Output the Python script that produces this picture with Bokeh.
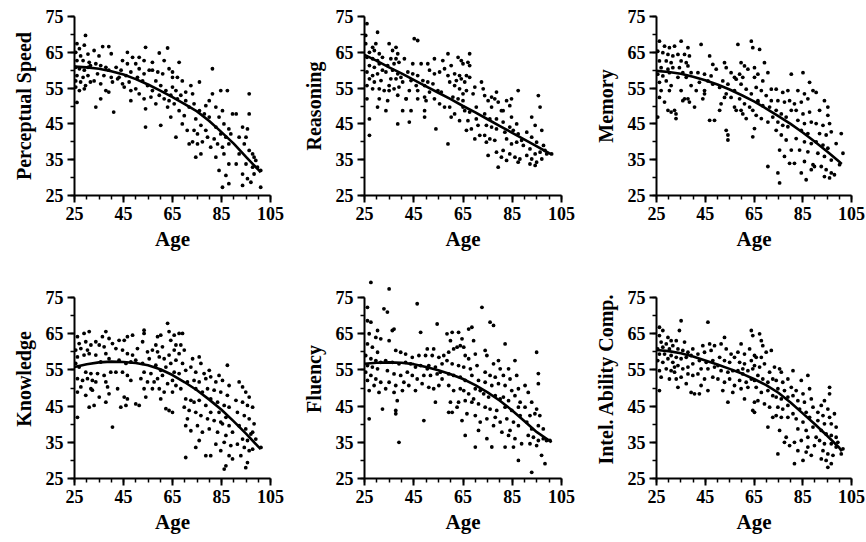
from bokeh.plotting import figure
from bokeh.layouts import column, row
from bokeh.models import FixedTicker
from bokeh.embed import file_html
from bokeh.resources import INLINE

# ---------------- data ----------------
x_ticks = [25, 45, 65, 85, 105]
y_ticks = [25, 35, 45, 55, 65, 75]
fit_age = [25, 30, 35, 40, 45, 50, 55, 60, 65, 70, 75, 80, 85, 90, 95, 100, 101]

ps_age = [26, 27, 29.5, 29, 25.5, 27.5, 30.5, 26, 28.5, 31, 25.5, 27, 29, 30.5, 31.5, 26, 28.5, 30.5, 25.5, 27.5, 29.5, 31.5, 27, 29, 26, 25.5,
          33, 36.5, 39, 35, 40, 33.7, 35.7, 37.8, 39, 34.4, 37, 40, 33, 35.7, 37.8, 40.5, 33.7, 35.7, 41, 39,
          44.6, 46.6, 48.7, 42, 44, 46, 48, 42.6, 44.6, 47.3, 45.3, 48, 43.2, 46.6, 48,
          51.4, 54, 50, 53.4, 51.4, 53.4, 55.5, 50.7, 52.8, 54.8, 56.8, 51.4, 53.4, 54, 56.2, 56.8, 54, 50,
          59.6, 63, 56.8, 61.6, 59, 61, 63.6, 58.2, 60.2, 62.3, 64.3, 59.6, 61.6, 63.6, 58.2, 60.2, 64.3, 63, 65, 65,
          67.7, 65, 67, 69, 66.4, 68.4, 70.4, 65.7, 67.7, 69.8, 71.8, 72.5, 66.4, 69, 71, 71.8, 73.2, 67, 70.4,
          76, 73.2, 73.8, 76, 78, 80, 74.5, 76.6, 78.6, 81.3, 81.3, 80, 73.8, 75.2, 77.2, 74.5, 76.6, 80.6, 79.3, 78.6, 75.2,
          84.7, 87.4, 82.7, 85.4, 84, 86, 88, 82.7, 84.7, 86.8, 88.8, 83.4, 85.4, 88, 82.7, 86, 88, 84, 86.8, 88, 85.4, 89.5, 82,
          91, 96.3, 96.3, 93.6, 95.6, 92.2, 94.3, 96.3, 98.3, 92.2, 95, 97.7, 93.6, 95.6, 93.6, 97, 91, 95, 97.7,
          99.7, 101, 99, 101, 98.3]
ps_val = [67.4, 66, 69.7, 67, 65, 64, 64.5, 62.7, 62.7, 62.2, 60.8, 60.4, 60, 60.8, 61.3, 58.5, 58, 58.5, 57, 56.7, 55.7, 56.7, 54.3, 54.8, 51, 55.3,
          65.5, 66.6, 66.6, 64, 64.6, 61.8, 61.3, 60.8, 60, 59, 58.5, 58, 57, 56.2, 54.3, 56.7, 49.7, 52, 48.3, 53.9,
          62.7, 65, 63.6, 60.8, 60, 58.5, 59.5, 57.6, 56.2, 56.7, 55.3, 54.3, 58, 61.8, 51.5,
          63.6, 66.4, 61.8, 62.7, 60.4, 59, 60, 58, 57, 55.7, 54.3, 53.4, 52, 49.2, 52.5, 60, 44.1, 54.8,
          64.8, 66.2, 62.2, 62.7, 59.5, 59, 60.4, 57, 55.7, 54.3, 53, 53, 52, 51.5, 50.6, 44.6, 46.9, 49.7, 58, 55.3,
          62.2, 59.5, 58, 57, 54.3, 53, 51.5, 50.6, 48.7, 47.3, 49.7, 55.7, 41.3, 45, 43.2, 39.4, 40, 52, 53.9,
          56.7, 53.4, 50.6, 48.7, 47.8, 46.9, 46.4, 44.6, 43.2, 60.4, 53.4, 51.5, 43.2, 42.2, 40, 35.7, 36.6, 38.5, 41.3, 50.1, 39.4,
          54.3, 54.3, 49.7, 48.7, 46.9, 45, 43.6, 44.1, 42.2, 41.3, 42.2, 39.4, 38.5, 39.4, 35.7, 36.6, 33.8, 32, 30.6, 28.3, 27.3, 47.8, 40.8,
          47.8, 53.4, 47.8, 44.1, 43.6, 41.3, 39.4, 37.6, 35.7, 36.6, 33.8, 32.9, 31, 29.7, 27.8, 28.7, 33.8, 41.3, 36.6,
          32.9, 32, 34.8, 27.3, 31]
ps_fit = [61, 60.8, 60.4, 59.7, 58.8, 57.5, 56, 54.3, 52.5, 50.5, 48.5, 45.8, 42.7, 39.5, 35.8, 32.2, 31.5]

rs_age = [26, 30.3, 25.5, 25.5, 28.3, 29.6, 27, 29, 31, 26, 28.3, 30.3, 32.3, 27, 29, 31, 26, 28.3, 30.3, 32.3, 27, 29, 31.7, 26, 28.3, 31, 26, 31, 27, 27, 30.3, 33.7, 34.4, 33,
          35, 36.4, 37.8, 38.5, 35.7, 37.8, 37, 39, 34.4, 33.7, 36.4, 38.5, 35.7, 37.8, 39.8, 35, 37, 39, 40.5, 35, 38.5, 40.5, 38.5, 41.9, 41.2,
          45.2, 46.6, 44.6, 48, 50.7, 42.6, 44.6, 46.6, 48.7, 43.9, 46, 43.2, 46.6, 49.4, 41.9, 46.6, 49.4, 43.9, 49.4, 49.4, 43.2,
          53.4, 56.8, 58.9, 51.4, 53.4, 55.5, 57.5, 50.7, 52.8, 54.8, 51.4, 56.2, 53.4, 55.5, 57.5, 54, 58.9, 58.9, 50,
          60.2, 63, 64.3, 65, 61.6, 63.6, 62.3, 64.3, 59.6, 61.6, 63.6, 65.7, 65, 60.9, 63, 59.6, 65, 60.2, 61.6, 63.6, 65,
          67.7, 67, 67.7, 66.4, 67.7, 69.8, 66.4, 69.1, 65.7, 67.7, 70.4, 72.5, 67, 70.4, 68.4, 71.1, 71.8, 69.8, 66.4, 73.2,
          73.8, 76.6, 78.6, 75.2, 77.9, 79.3, 76.6, 73.8, 75.9, 78.6, 80.6, 74.5, 76.6, 78.6, 73.8, 75.9, 77.9, 75.2, 78.6, 79.3, 80.6, 74.5, 81.3,
          82.7, 84.7, 87.4, 84, 81.3, 84.7, 86.8, 84, 82, 85.4, 87.4, 82.7, 84.7, 86.8, 81.3, 84, 86.1, 88.1, 82.7, 87.4, 88.8,
          92.9, 95.6, 96.3, 94.3, 97, 90.9, 92.9, 94.9, 97.7, 92.2, 94.3, 96.3, 99, 101, 90.9, 92.9, 94.9, 92.2, 94.3, 97, 98.3, 89.5]
rs_val = [73, 70.6, 69.7, 67.4, 66.4, 67.4, 65, 65.5, 64.6, 63.6, 63.2, 62.7, 63.6, 61.3, 60.8, 61.8, 59.5, 58.5, 59, 60, 57.6, 56.7, 57.1, 55.7, 54.8, 54.8, 52, 52, 46.4, 41.8, 49.7, 48.7, 51.5, 54.3,
          67.4, 65.5, 66.4, 64.6, 63.2, 63.2, 61.8, 62.2, 61.3, 59.5, 60, 59, 57.6, 57.6, 58, 55.7, 54.8, 55.3, 56.7, 54.3, 53, 48.7, 45, 52, 63.2,
          68.8, 68.3, 61.8, 61.8, 61.8, 59.5, 59, 58.5, 57.1, 57.1, 55.7, 54.3, 54.3, 55.7, 52, 52, 52.5, 48.7, 48.7, 46.9, 45.5,
          63.2, 62.7, 64.6, 60, 59, 59.5, 60.4, 56.7, 56.2, 54.3, 53.9, 53.9, 52, 50.6, 49.7, 43.6, 39.4, 58.5, 51.5,
          61.3, 63.6, 62.7, 61.8, 59, 58.5, 57.1, 57.6, 56.7, 55.7, 54.8, 56.7, 53.4, 52.5, 52, 49.7, 49.7, 46.9, 47.8, 45.9, 51.5,
          64.6, 62.2, 61.3, 58.5, 58, 55.3, 54.3, 53.4, 48.7, 48.3, 49.7, 56.7, 45.9, 46.4, 43.6, 44.6, 41.8, 40.8, 43.2, 54.8,
          52.9, 52.5, 53.9, 51.5, 52, 51.1, 49.7, 47.8, 46.4, 46.4, 48.7, 44.6, 44.1, 43.6, 41.8, 40.8, 40.4, 36.2, 37.1, 32.9, 35.7, 39.9, 45.5,
          51.5, 52, 54.3, 50.1, 48.7, 46.9, 45, 44.1, 42.7, 43.2, 42.2, 40.8, 39.4, 39.9, 37.6, 36.6, 35.7, 35.2, 34.8, 34.3, 40.4,
          46.9, 52.9, 49.7, 44.6, 43.2, 42.7, 41.3, 39.9, 39, 38, 36.6, 37.1, 36.6, 36.6, 36.2, 35.2, 34.3, 33.8, 33.4, 35.2, 37.6, 39]
rs_fit = [64.3, 62.6, 60.8, 59.1, 57.3, 55.5, 53.7, 51.9, 50, 48.2, 46.3, 44.4, 42.5, 40.6, 38.7, 36.8, 36.5]

mem_age = [26.2, 28.3, 30.3, 32.4, 25.5, 27.6, 29.7, 31.7, 26.2, 29, 31, 26.9, 29.7, 31.7, 25.5, 27.6, 30.3, 26.2, 29, 31, 26.9, 30.3, 26.2, 28.3, 31, 33, 29.7, 25.5, 32.4, 33,
           35.1, 37.9, 33.8, 36.5, 38.5, 35.1, 37.2, 34.4, 37.9, 35.8, 39.2, 33.8, 37.2, 39.2, 35.1, 37.9, 38.5, 40.6, 35.8, 36.5,
           43.3, 46.8, 48.1, 49.5, 42, 44.7, 47.4, 42.6, 46.1, 48.1, 41.3, 44.7, 44, 46.8, 48.8, 44.7,
           52.9, 53.6, 55.6, 52.2, 54.3, 57, 50.9, 53.6, 55.6, 57, 51.5, 50.9, 53.6, 54.3, 54.3, 52.9, 57,
           58.4, 59.7, 61.1, 59.1, 57.7, 60.4, 62.5, 63.9, 64.5, 65.2, 59.7, 61.8, 63.9, 59.1, 61.1, 63.2, 60.4, 61.8, 64.5, 59.7, 64.5, 57.7, 65.2,
           67.3, 69.3, 66.6, 68.6, 70.7, 65.9, 68, 70, 72.1, 66.6, 68.6, 71.4, 65.9, 68, 70.7, 72.7, 65.2, 70.7, 66.6, 72.1,
           74.1, 76.8, 78.9, 80.3, 74.8, 77.5, 79.6, 74.1, 76.2, 78.2, 80.3, 74.8, 76.8, 78.9, 74.1, 76.2, 78.2, 75.5, 77.5, 74.8, 75.5, 80.3, 79.6,
           85.1, 87.8, 83, 85.7, 89.2, 81.6, 84.4, 87.1, 82.3, 85.1, 87.8, 83, 85.7, 88.5, 84.4, 87.1, 82.3, 85.7, 88.5, 83.7, 87.1, 81.6, 85.7, 89.2, 84.4, 86.4, 88.5,
           90.5, 93.9, 95.3, 91.9, 95.3, 90.5, 93.3, 96, 91.9, 94.6, 96.7, 90.5, 93.3, 95.3, 98.7, 91.2, 93.9, 96.7, 92.6, 94.6, 96.7, 93.9, 96, 98, 101.5, 100.1, 100.8, 89.8]
mem_val = [68.1, 66.7, 66.3, 66.7, 65.3, 64.9, 64.4, 64, 62.6, 62.6, 62.1, 60.7, 60.3, 60.7, 58.9, 58.4, 59.3, 56.6, 57, 55.7, 54.3, 54.3, 52.4, 51.1, 48.3, 47.8, 48.8, 46.9, 48.8, 46.5,
           68.1, 66.3, 64.4, 64.4, 64, 62.6, 62.1, 60.7, 61.2, 59.3, 59.3, 58, 58, 55.7, 54.3, 52, 51.1, 49.7, 51.5, 52,
           67.2, 64, 61.6, 60.3, 59.3, 58.9, 58.4, 56.6, 57, 56.1, 54.3, 54.3, 52, 46, 46, 53.4,
           62.1, 60.7, 59.3, 57, 56.1, 58, 55.2, 53.4, 52.4, 54.3, 50.6, 48.8, 43.2, 41.9, 40.5, 52.4, 49.7,
           67.2, 62.1, 61.2, 58.9, 57.5, 58, 60.3, 68.1, 66.3, 58, 56.1, 54.7, 53.4, 52, 50.6, 49.7, 47.8, 46.5, 48.8, 48.8, 41.4, 48.8, 60.7,
           65.8, 62.1, 58.9, 57, 59.3, 55.2, 54.3, 52.9, 54.7, 51.5, 50.1, 49.7, 47.4, 46.5, 45.5, 46.9, 43.7, 33.1, 51.1, 51.5,
           54.7, 53.8, 54.3, 58.9, 51.5, 51.1, 51.5, 48.8, 47.8, 46.9, 48.8, 45.5, 44.6, 44.2, 43.2, 41.9, 40.5, 37.7, 35.9, 31.3, 28.5, 37.7, 34,
           59.3, 56.6, 54.3, 53.4, 54.3, 50.6, 51.1, 52, 48.8, 47.8, 48.3, 46, 45.1, 45.5, 43.2, 42.3, 40.9, 40, 39.5, 37.7, 37.2, 34, 34.5, 33.6, 31.3, 29.4, 32.2,
           53.8, 51.5, 49.7, 48.8, 47.4, 45.1, 44.6, 45.1, 42.3, 41.9, 42.8, 40, 39.1, 38.2, 39.5, 36.8, 35.9, 34.9, 33.1, 32.2, 31.3, 30.3, 29.9, 30.8, 36.8, 33.6, 42.3, 33.1]
mem_fit = [59.8, 59.5, 59, 58.2, 57.2, 56, 54.6, 53, 51.3, 49.3, 47.2, 45, 42.6, 40, 37.3, 34.4, 33.8]

kn_age = [26.2, 28.9, 31, 26.9, 29.6, 31.7, 25.5, 27.6, 30.3, 26.2, 28.9, 31, 25.5, 26.9, 29.6, 31.7, 26.2, 28.3, 30.3, 27.6, 31.7, 26.2, 29.6, 31, 26.2, 32.3, 32.3,
          33.7, 36.4, 37.8, 39.1, 35.1, 37.1, 40.5, 33.7, 37.8, 35.7, 39.1, 34.4, 37.1, 39.8, 33.7, 37.8, 39.1, 35.1, 37.8, 40.5, 33, 38.5,
          43.2, 45.3, 46.6, 48.7, 41.9, 44.6, 46.6, 48.7, 43.2, 46, 48, 41.9, 44.6, 46.6, 48, 42.6, 45.3, 46.6, 43.9, 46, 50,
          53.4, 53.4, 52.8, 50.7, 54.8, 56.8, 50, 52.8, 55.5, 53.4, 56.2, 52.1, 54.8, 53.4, 56.8, 54.1, 51.4, 57.5,
          58.9, 60.2, 63, 63.6, 58.2, 60.9, 64.3, 58.9, 59.6, 61.6, 63.6, 58.2, 60.2, 62.3, 64.3, 58.9, 60.9, 63, 65, 59.6, 61.6, 63.6, 65, 60.2, 62.3,
          65.7, 67.7, 69.1, 66.4, 68.4, 65.7, 67.7, 69.8, 66.4, 69.1, 65.7, 67.7, 70.4, 66.4, 68.4, 71.1, 65, 70.4, 72.5, 69.8, 71.8, 71.1, 70.4, 72.5, 70.4, 73.2, 72.5,
          75.9, 76.6, 74.5, 77.9, 80, 73.8, 75.9, 78.6, 80.6, 74.5, 77.2, 79.3, 73.8, 75.9, 78.6, 80.6, 74.5, 76.6, 79.3, 75.2, 77.2, 80, 74.5, 78.6, 80.6, 75.9, 80.6,
          84, 87.4, 82.7, 85.4, 88.1, 82, 84.7, 87.4, 83.4, 86.1, 88.1, 84, 86.8, 82, 85.4, 88.1, 83.4, 86.8, 89.5, 82.7, 86.1, 88.8, 84.7, 88.1, 86.8, 86.1, 89.5, 84.7,
          92.2, 93.6, 94.9, 96.3, 90.9, 93.6, 95.6, 97.7, 91.5, 94.3, 96.3, 98.3, 92.2, 94.9, 97, 93.6, 95.6, 97.7, 91.5, 94.3, 96.3, 92.9, 95.6, 94.9, 101.1, 99, 97.7]
kn_val = [64.2, 65.1, 65.6, 62.3, 62.8, 61.9, 60.5, 60.9, 60.5, 58.6, 59.1, 59.5, 56.8, 55.8, 54.4, 54, 52.6, 52.1, 52.6, 50.3, 49.8, 48.9, 48, 44.7, 41.9, 49.4, 52.1,
          62.8, 64.2, 65.6, 63.7, 61.9, 61.4, 62.3, 59.1, 59.5, 57.2, 58.1, 54, 53.5, 54.4, 51.7, 51.7, 48.4, 47.5, 46.1, 39.2, 45.2, 50.3,
          63.2, 63.2, 64.2, 64.6, 60.9, 60.5, 59.5, 59.1, 57.7, 56.8, 57.2, 54.4, 54.4, 53.5, 52.1, 49.8, 47.5, 47, 44.7, 45.2, 45.6,
          66, 65.1, 62.8, 60.9, 60, 60.5, 57.7, 56.8, 58.1, 54.4, 54, 52.6, 51.7, 49.8, 49.8, 47.5, 45.2, 51.7,
          64.2, 64.6, 67.9, 65.6, 61.9, 61.4, 63.2, 60, 58.6, 58.1, 59.1, 56.3, 54.9, 55.8, 56.8, 52.6, 53.5, 51.2, 52.1, 49.8, 48.9, 43.8, 43.3, 47, 44.3,
          64.6, 65.1, 65.1, 61.9, 61.9, 60.5, 59.5, 60.5, 57.7, 56.8, 54.4, 54, 54.9, 50.7, 49.8, 51.7, 48.9, 47, 46.6, 44.7, 43.8, 41.5, 39.6, 38.2, 30.8, 58.1, 55.8,
          58.6, 56.8, 54.4, 54, 54.9, 52.1, 51.7, 52.6, 53.1, 49.8, 48.9, 49.8, 46.1, 46.6, 45.2, 47, 43.3, 42.4, 41.5, 39.6, 37.8, 38.7, 33.6, 31.3, 31.3, 35.5, 43.3,
          53.5, 56.3, 51.7, 52.1, 50.7, 49.4, 48.9, 48, 46.1, 45.2, 44.7, 43.3, 41.9, 41, 40.1, 39.6, 37.8, 36.9, 37.8, 34.5, 35, 34.1, 32.7, 31.3, 28.5, 27.6, 30.4, 40.6,
          51.7, 50.3, 48.9, 47.5, 46.6, 46.1, 45.2, 44.7, 43.3, 42.4, 41.5, 40.1, 39.6, 38.7, 37.3, 35.9, 35.5, 37.8, 34.5, 33.6, 32.7, 31.3, 29.4, 28, 33.6, 35.9, 33.1]
kn_fit = [55.8, 56.6, 57.1, 57.3, 57.2, 56.9, 56.3, 55.2, 53.6, 51.6, 49.4, 46.8, 44, 40.8, 37.4, 33.8, 33.1]

fl_age = [26.2, 26.2, 27.6, 30.3, 26.9, 29.6, 31.6, 26.2, 28.2, 30.3, 25.5, 27.6, 29.6, 31.6, 26.2, 28.2, 30.3, 25.5, 27.6, 29.6, 31.6, 26.2, 28.9, 30.9, 26.9, 32.3, 26.9, 32.9, 35, 27.6,
          34.3, 36.3, 37, 35, 37.7, 39.7, 33.6, 36.3, 39, 34.3, 37, 39.7, 35, 37.7, 33.6, 37, 40.4, 38.3, 37.7, 39, 37.7,
          41.7, 44.4, 47.1, 41.7, 43.7, 45.7, 47.8, 42.4, 44.4, 46.4, 43, 45.7, 48.4, 46.4, 47.8, 49.8, 49.1, 49.1, 41,
          50.5, 53.1, 54.5, 52.5, 55.2, 51.1, 53.8, 56.5, 51.8, 54.5, 56.5, 51.1, 53.1, 55.2, 53.8, 50.5, 55.8,
          58.5, 60.6, 63.2, 59.9, 62.6, 64.6, 59.2, 61.2, 63.9, 58.5, 60.6, 63.2, 59.2, 61.2, 63.9, 59.2, 61.2, 63.9, 59.9, 63.2, 60.6, 64.6, 62.6, 59.2, 57.2,
          65.3, 67.3, 68.6, 69.3, 65.9, 67.3, 70, 65.3, 68, 70.7, 65.9, 68.6, 71.3, 65.3, 67.3, 70, 72, 65.9, 68.6, 71.3, 66.6, 70, 71.3, 65.9, 70, 72, 69.3,
          72.7, 76, 77.4, 74, 74.7, 77.4, 79.4, 74, 76, 78.1, 80.1, 74, 76.7, 79.4, 73.4, 75.4, 78.1, 80.1, 74, 76, 78.7, 74.7, 77.4, 74.7, 80.1, 76.7, 78.1,
          82.1, 83.5, 86.1, 81.4, 84.1, 86.8, 82.1, 84.8, 87.5, 81.4, 83.5, 86.1, 88.2, 82.1, 84.8, 87.5, 82.8, 85.5, 88.2, 80.8, 83.5, 86.1, 82.1, 85.5, 87.5, 88.8, 84.1,
          90.2, 94.9, 95.6, 95.6, 91.5, 92.9, 94.9, 90.2, 92.2, 94.2, 96.2, 90.9, 92.9, 95.6, 97.6, 91.5, 93.6, 95.6, 97.6, 100.3, 92.2, 94.9, 96.9, 98.3, 92.9, 98.9, 87.5]
fl_val = [72.3, 68.6, 68.2, 65.9, 65, 64, 63.6, 62.2, 61.3, 59.9, 59, 58.1, 57.6, 57.1, 56.2, 55.8, 55.3, 54.4, 53.5, 52.5, 51.6, 52.1, 50.7, 48.8, 49.3, 44.2, 41.5, 71.9, 77.4, 79.2,
          71, 65.9, 66.3, 63.1, 60.4, 59.9, 57.6, 57.1, 56.7, 54.8, 53.9, 53.5, 51.6, 50.7, 49.8, 48.8, 49.3, 46.5, 43.8, 35, 42.9,
          59.4, 58.5, 59, 57.1, 56.7, 55.8, 56.2, 54.4, 53.5, 52.5, 50.7, 49.3, 51.2, 73.3, 65.4, 59, 53.5, 41, 51.6,
          60.8, 60.8, 67.7, 59, 58.5, 56.2, 55.8, 56.7, 53.5, 53.9, 52.5, 50.2, 49.8, 50.7, 46.1, 55.3, 54.4,
          65, 65.4, 65.4, 63.1, 61.3, 63.6, 59.9, 60.8, 61.7, 57.6, 56.7, 56.2, 53.9, 53.5, 53, 50.7, 49.3, 49.8, 46.1, 46.1, 43.3, 41, 44.7, 43.3, 59,
          61.3, 66.3, 66.8, 63.1, 59, 58.1, 59.4, 55.8, 55.3, 56.2, 52.1, 53.5, 52.1, 49.3, 48.4, 49.8, 49.3, 46.5, 46.1, 45.6, 42.9, 42.4, 38.3, 36.9, 33.7, 40.6, 47,
          72.3, 68.2, 67.3, 60.4, 59, 56.7, 57.6, 54.4, 53.5, 53, 55.3, 51.6, 50.7, 51.2, 48.4, 47.5, 47.9, 47, 44.7, 44.2, 43.8, 41.5, 39.6, 36, 40.6, 33.7, 41.9,
          62.2, 55.3, 57.6, 53.5, 52.5, 53.5, 50.7, 49.3, 49.8, 47.5, 46.5, 47.9, 46.1, 44.7, 43.8, 44.7, 41.5, 40.6, 42.4, 37.8, 36.9, 36, 33.7, 33.7, 30, 34.6, 38.3,
          50.7, 59.9, 54, 51.2, 48.8, 46.1, 44.2, 44.7, 42.4, 42.9, 42.4, 40.6, 38.7, 39.6, 38.7, 36.9, 36.4, 35.5, 36, 35.5, 34.6, 34.1, 31.4, 29.1, 26.7, 35.5, 39.6]
fl_fit = [56.7, 57, 57.1, 57, 56.6, 55.8, 54.9, 53.8, 52.5, 50.8, 48.8, 46.5, 43.8, 40.8, 37.8, 35.5, 35]

ia_age = [26.2, 27.6, 26.2, 29.7, 26.9, 29, 31, 25.5, 27.6, 30.3, 31.7, 26.2, 28.3, 31, 25.5, 27.6, 29.7, 31.7, 26.2, 29, 31, 26.9, 30.3, 26.2, 32.4, 32.4,
          35.1, 34.4, 33.1, 36.5, 33.8, 35.8, 37.9, 39.9, 33.1, 35.1, 37.2, 39.2, 33.8, 35.8, 37.9, 39.9, 33.1, 35.1, 37.9, 39.9, 33.8, 37.2, 39.2, 40.6,
          46.1, 44, 46.8, 48.8, 42, 44.7, 47.4, 42.6, 45.4, 48.1, 43.3, 46.1, 42, 44.7, 48.1, 43.3, 46.1, 42.6, 48.8,
          52.9, 51.5, 53.6, 55.6, 50.9, 52.9, 55, 57, 51.5, 54.3, 56.3, 50.2, 52.9, 55, 57, 52.2, 54.3, 56.3, 50.2,
          59.7, 63.9, 64.5, 58.4, 61.1, 63.2, 65.2, 59.1, 61.1, 63.9, 58.4, 60.4, 62.5, 64.5, 59.1, 61.8, 63.9, 59.7, 62.5, 65.2, 61.1, 64.5, 65.2, 60.4,
          67.3, 68, 68.6, 65.9, 68, 70, 65.2, 67.3, 69.3, 71.4, 66.6, 68.6, 70.7, 72.7, 65.9, 68, 70.7, 72.7, 66.6, 69.3, 71.4, 72.7, 70.7, 72.1, 65.2,
          73.4, 75.5, 76.2, 74.1, 76.8, 78.9, 81, 74.8, 77.5, 80.3, 74.1, 76.2, 78.9, 81, 74.8, 76.8, 78.9, 74.1, 76.2, 78.9, 81, 75.5, 78.2, 74.8, 79.6, 77.5, 81.6,
          87.1, 84.4, 82.3, 85.1, 87.8, 83, 85.7, 88.5, 83.7, 86.4, 89.2, 82.3, 85.1, 87.8, 83, 86.4, 89.2, 84.4, 87.1, 89.8, 83, 86.4, 88.5, 85.1, 81.6, 87.1,
          96, 96, 93.9, 92.6, 95.3, 91.2, 93.3, 96, 98, 91.2, 93.9, 96.7, 98.7, 92.6, 94.6, 96.7, 98.7, 91.9, 93.9, 96.7, 99.4, 101.5, 93.3, 95.3, 97.4, 92.6, 94.6, 96.7, 100.8, 98.7, 95.3, 90.5]
ia_val = [66.8, 65.9, 64.5, 64, 62.7, 62.2, 63.1, 60.8, 61.3, 60.8, 61.7, 59.4, 59.4, 59, 57.6, 57.1, 58.1, 57.1, 54.8, 55.3, 54.8, 53, 52.5, 49.3, 54.4, 55.8,
          68.6, 65.9, 63.1, 62.7, 60.8, 60.4, 59.9, 60.8, 58.5, 58.1, 58.5, 59, 56.2, 55.3, 55.8, 56.7, 52.5, 53, 53.9, 53.5, 50.2, 51.2, 48.8, 48.4,
          68.2, 61.7, 62.2, 61.7, 59.4, 59.9, 60.4, 57.6, 57.1, 57.6, 55.3, 55.3, 53.9, 52.5, 53, 50.7, 49.3, 48.4, 55.8,
          64, 62.2, 60.8, 59.4, 58.5, 57.6, 57.1, 58.5, 54.8, 54.4, 54.8, 52.5, 51.6, 52.5, 50.7, 49.3, 46.1, 48.8, 56.2,
          62.2, 65.9, 64.5, 59.9, 59.4, 60.8, 59, 57.1, 56.7, 57.6, 54.8, 53.9, 54.8, 55.3, 52.1, 51.6, 52.5, 49.8, 50.2, 52.1, 47, 43.8, 43.3, 55.3,
          65, 63.1, 61.7, 58.5, 58.5, 59.9, 56.2, 55.8, 56.7, 54.4, 53.5, 52.5, 51.6, 52.5, 50.2, 48.8, 49.3, 47.9, 46.5, 45.6, 44.7, 41.9, 39.2, 60.4, 46.1,
          55.8, 55.3, 54.4, 52.1, 51.6, 52.5, 54.8, 49.8, 49.3, 50.2, 47.5, 47, 47.5, 47.9, 44.7, 44.2, 45.2, 42.4, 41.9, 41.9, 42.9, 38.3, 36.4, 31.8, 34.1, 35, 35,
          53.5, 52.1, 49.3, 48.4, 49.8, 46.5, 46.1, 47, 44.2, 43.3, 44.7, 41.5, 40.6, 41.9, 38.7, 38.3, 39.2, 35.5, 36.4, 34.1, 32.7, 32.3, 31.4, 30, 29.1, 33.7,
          50.2, 48.4, 46.5, 45.2, 44.2, 43.3, 42.4, 41.9, 42.9, 41, 40.1, 40.1, 39.2, 38.3, 37.3, 36.9, 36.4, 35.5, 34.6, 34.6, 35, 33.2, 32.7, 31.8, 31.4, 30.4, 30, 29.1, 31.8, 33.7, 28.1, 36.4]
ia_fit = [60.5, 60.2, 59.6, 58.7, 57.6, 56.5, 55.3, 54, 52.5, 50.8, 48.7, 46, 43, 40, 36.8, 33.5, 32.5]

FONT = "Liberation Serif"


def panel(ages, vals, fit_vals, ylabel, fw, fh, left, right, top, bottom, y_end=75):
    p = figure(frame_width=fw, frame_height=fh, min_border_left=left, min_border_right=right,
               min_border_top=top, min_border_bottom=bottom,
               x_range=(25, 105), y_range=(25, y_end), output_backend="svg",
               toolbar_location=None, tools="")
    p.outline_line_color = None
    p.grid.visible = False
    p.background_fill_color = "white"
    p.border_fill_color = "white"
    p.scatter(ages, vals, size=3.8, color="black", line_color=None)
    p.line(fit_age, fit_vals, line_width=2.6, color="black", line_join="round")
    p.xaxis.ticker = FixedTicker(ticks=x_ticks, minor_ticks=list(range(25, 106, 5)))
    p.yaxis.ticker = FixedTicker(ticks=y_ticks, minor_ticks=list(range(25, 76, 5)))
    p.yaxis.bounds = (25, 75)
    for ax in (p.xaxis, p.yaxis):
        ax.axis_line_width = 2
        ax.axis_line_color = "black"
        ax.major_tick_line_width = 2
        ax.minor_tick_line_width = 1.5
        ax.major_tick_in = 0
        ax.major_tick_out = 7
        ax.minor_tick_in = 0
        ax.minor_tick_out = 4
        ax.major_label_text_font = FONT
        ax.major_label_text_font_size = "18px"
        ax.major_label_text_font_style = "bold"
        ax.major_label_text_color = "black"
        ax.axis_label_text_font = FONT
        ax.axis_label_text_font_style = "bold"
        ax.axis_label_text_color = "black"
    p.xaxis.axis_label = "Age"
    p.xaxis.axis_label_text_font_size = "21px"
    p.xaxis.major_label_standoff = 4
    p.xaxis.axis_label_standoff = 4
    p.yaxis.axis_label = ylabel
    p.yaxis.axis_label_text_font_size = "20px"
    p.yaxis.major_label_standoff = 4
    p.yaxis.axis_label_standoff = 8
    return p


# top row: y 25..75 ; bottom row: y 25..80 (Fluency has points above 75), axis drawn to 75
p1 = panel(ps_age, ps_val, ps_fit, "Perceptual Speed", 196, 179, 74, 20, 16, 63)
p2 = panel(rs_age, rs_val, rs_fit, "Reasoning", 197, 179, 74, 21, 16, 63)
p3 = panel(mem_age, mem_val, mem_fit, "Memory", 195, 179, 74, 15, 16, 63)
p4 = panel(kn_age, kn_val, kn_fit, "Knowledge", 196, 199, 74, 20, 21, 64, y_end=80)
p5 = panel(fl_age, fl_val, fl_fit, "Fluency", 197, 199, 74, 21, 21, 64, y_end=80)
p6 = panel(ia_age, ia_val, ia_fit, "Intel. Ability Comp.", 195, 199, 74, 15, 21, 64, y_end=80)

layout = column(row(p1, p2, p3, spacing=0), row(p4, p5, p6, spacing=0), spacing=0)
open("out.html", "w").write(file_html(layout, INLINE))
